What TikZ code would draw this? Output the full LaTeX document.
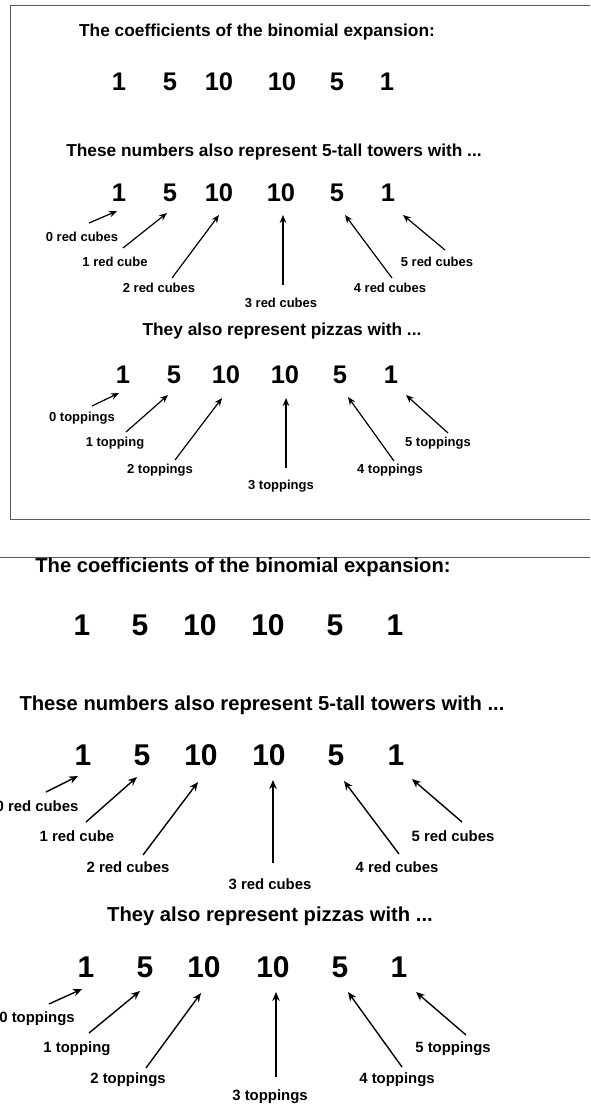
\documentclass[tikz,border=0pt]{standalone}
\usepackage{fontspec}
\setmainfont{Liberation Sans}
\usetikzlibrary{arrows.meta}
\tikzset{
  ttlA/.style={font=\bfseries\fontsize{17.3}{20}\selectfont, inner sep=0pt},
  numA/.style={font=\bfseries\fontsize{25.5}{28}\selectfont, inner sep=0pt},
  labA/.style={font=\bfseries\fontsize{13}{15}\selectfont, inner sep=0pt},
  ttlB/.style={font=\bfseries\fontsize{20.2}{23}\selectfont, inner sep=0pt},
  numB/.style={font=\bfseries\fontsize{30}{34}\selectfont, inner sep=0pt},
  labB/.style={font=\bfseries\fontsize{14.9}{17}\selectfont, inner sep=0pt},
  arrA/.style={-{Stealth[length=8pt,width=6.5pt]}, line width=1.2pt},
  arrB/.style={-{Stealth[length=9pt,width=7.5pt]}, line width=1.4pt},
  frame/.style={draw=black!65, line width=1pt}
}
\begin{document}
\begin{tikzpicture}[x=1pt,y=-1pt]
\useasboundingbox (0,0) rectangle (590,1104);
\fill[white] (0,0) rectangle (590,1104);
% ---------- top (framed) version ----------
\coordinate (fTR) at (590,5);
\coordinate (fTL) at (10,5);
\coordinate (fBL) at (10,519);
\coordinate (fBR) at (590,519);
\draw[frame] (fTR) -- (fTL) -- (fBL) -- (fBR);
\node[ttlA] (A-t1) at (257,32) {The coefficients of the binomial expansion:};
\node[numA] (A-a1) at (119,82) {1};
\node[numA] (A-a2) at (170,82) {5};
\node[numA] (A-a3) at (219,82) {10};
\node[numA] (A-a4) at (282,82) {10};
\node[numA] (A-a5) at (337,82) {5};
\node[numA] (A-a6) at (387,82) {1};
\node[ttlA] (A-t2) at (274,152) {These numbers also represent 5-tall towers with ...};
\node[numA] (A-b1) at (119,193) {1};
\node[numA] (A-b2) at (170,193) {5};
\node[numA] (A-b3) at (219,193) {10};
\node[numA] (A-b4) at (281,193) {10};
\node[numA] (A-b5) at (337,193) {5};
\node[numA] (A-b6) at (388,193) {1};
\node[labA] (A-bl0) at (82,237) {0 red cubes};
\node[labA] (A-bl1) at (115,262) {1 red cube};
\node[labA] (A-bl2) at (159,288) {2 red cubes};
\node[labA] (A-bl3) at (281,303) {3 red cubes};
\node[labA] (A-bl4) at (390,288) {4 red cubes};
\node[labA] (A-bl5) at (437,262) {5 red cubes};
\coordinate (A-bs0) at (89,223);  \coordinate (A-be0) at (117,211);
\coordinate (A-bs1) at (123,248); \coordinate (A-be1) at (167,213);
\coordinate (A-bs2) at (172,278); \coordinate (A-be2) at (219,215);
\coordinate (A-bs3) at (283,285); \coordinate (A-be3) at (283,215);
\coordinate (A-bs4) at (392,278); \coordinate (A-be4) at (345,215);
\coordinate (A-bs5) at (445,250); \coordinate (A-be5) at (403,215);
\foreach \i in {0,...,5} \draw[arrA] (A-bs\i) -- (A-be\i);
\node[ttlA] (A-t3) at (282,331) {They also represent pizzas with ...};
\node[numA] (A-c1) at (123,375) {1};
\node[numA] (A-c2) at (174,375) {5};
\node[numA] (A-c3) at (226,375) {10};
\node[numA] (A-c4) at (285,375) {10};
\node[numA] (A-c5) at (340,375) {5};
\node[numA] (A-c6) at (391,375) {1};
\node[labA] (A-cl0) at (82,418) {0 toppings};
\node[labA] (A-cl1) at (115,443) {1 topping};
\node[labA] (A-cl2) at (160,470) {2 toppings};
\node[labA] (A-cl3) at (281,486) {3 toppings};
\node[labA] (A-cl4) at (390,470) {4 toppings};
\node[labA] (A-cl5) at (438,443) {5 toppings};
\coordinate (A-cs0) at (92,406);  \coordinate (A-ce0) at (119,393);
\coordinate (A-cs1) at (126,432); \coordinate (A-ce1) at (168,395);
\coordinate (A-cs2) at (175,460); \coordinate (A-ce2) at (222,398);
\coordinate (A-cs3) at (286,468); \coordinate (A-ce3) at (286,398);
\coordinate (A-cs4) at (394,461); \coordinate (A-ce4) at (348,397);
\coordinate (A-cs5) at (448,433); \coordinate (A-ce5) at (406,395);
\foreach \i in {0,...,5} \draw[arrA] (A-cs\i) -- (A-ce\i);
% ---------- bottom (enlarged) version ----------
\coordinate (gL) at (0,557);
\coordinate (gR) at (590,557);
\draw[frame] (gL) -- (gR);
\node[ttlB] (B-t1) at (243,567) {The coefficients of the binomial expansion:};
\node[numB] (B-a1) at (82,625) {1};
\node[numB] (B-a2) at (140,625) {5};
\node[numB] (B-a3) at (200,625) {10};
\node[numB] (B-a4) at (268,625) {10};
\node[numB] (B-a5) at (335,625) {5};
\node[numB] (B-a6) at (395,625) {1};
\node[ttlB] (B-t2) at (262,705) {These numbers also represent 5-tall towers with ...};
\node[numB] (B-b1) at (83,755) {1};
\node[numB] (B-b2) at (142,755) {5};
\node[numB] (B-b3) at (201,755) {10};
\node[numB] (B-b4) at (269,755) {10};
\node[numB] (B-b5) at (336,755) {5};
\node[numB] (B-b6) at (396,755) {1};
\node[labB] (B-bl0) at (37,806) {0 red cubes};
\node[labB] (B-bl1) at (77,836) {1 red cube};
\node[labB] (B-bl2) at (128,867) {2 red cubes};
\node[labB] (B-bl3) at (270,884) {3 red cubes};
\node[labB] (B-bl4) at (397,867) {4 red cubes};
\node[labB] (B-bl5) at (453,836) {5 red cubes};
\coordinate (B-bs0) at (46,792);  \coordinate (B-be0) at (78,776);
\coordinate (B-bs1) at (86,822);  \coordinate (B-be1) at (137,777);
\coordinate (B-bs2) at (143,855); \coordinate (B-be2) at (198,782);
\coordinate (B-bs3) at (273,863); \coordinate (B-be3) at (273,780);
\coordinate (B-bs4) at (399,854); \coordinate (B-be4) at (344,781);
\coordinate (B-bs5) at (462,822); \coordinate (B-be5) at (412,779);
\foreach \i in {0,...,5} \draw[arrB] (B-bs\i) -- (B-be\i);
\node[ttlB] (B-t3) at (270,916) {They also represent pizzas with ...};
\node[numB] (B-c1) at (86,967) {1};
\node[numB] (B-c2) at (145,967) {5};
\node[numB] (B-c3) at (204,967) {10};
\node[numB] (B-c4) at (273,967) {10};
\node[numB] (B-c5) at (340,967) {5};
\node[numB] (B-c6) at (399,967) {1};
\node[labB] (B-cl0) at (37,1019) {0 toppings};
\node[labB] (B-cl1) at (77,1049) {1 topping};
\node[labB] (B-cl2) at (128,1080) {2 toppings};
\node[labB] (B-cl3) at (270,1097) {3 toppings};
\node[labB] (B-cl4) at (397,1080) {4 toppings};
\node[labB] (B-cl5) at (453,1049) {5 toppings};
\coordinate (B-cs0) at (49,1004);  \coordinate (B-ce0) at (82,989);
\coordinate (B-cs1) at (89,1033);  \coordinate (B-ce1) at (140,991);
\coordinate (B-cs2) at (146,1068); \coordinate (B-ce2) at (201,993);
\coordinate (B-cs3) at (276,1077); \coordinate (B-ce3) at (276,992);
\coordinate (B-cs4) at (402,1067); \coordinate (B-ce4) at (348,992);
\coordinate (B-cs5) at (466,1035); \coordinate (B-ce5) at (416,992);
\foreach \i in {0,...,5} \draw[arrB] (B-cs\i) -- (B-ce\i);
\end{tikzpicture}
\end{document}
